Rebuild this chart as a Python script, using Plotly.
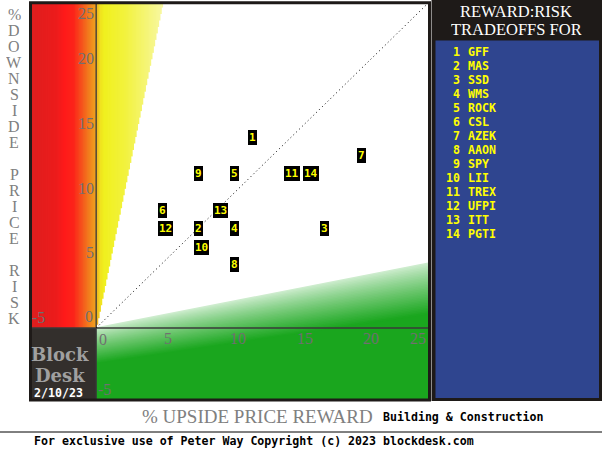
import plotly.graph_objects as go

# ---------------- data ----------------
ranks = list(range(1, 15))
tickers = ["GFF", "MAS", "SSD", "WMS", "ROCK", "CSL", "AZEK",
           "AAON", "SPY", "LII", "TREX", "UFPI", "ITT", "PGTI"]
upside = [11.5, 7.4, 16.9, 10.1, 10.1, 4.7, 19.7, 10.1, 7.4, 7.4, 14.2, 4.7, 8.8, 15.6]
downside = [14.7, 7.7, 7.7, 7.7, 11.9, 9.1, 13.3, 4.9, 11.9, 6.25, 11.9, 7.7, 9.1, 11.9]
x_ticks = [5, 10, 15, 20]
y_ticks = [5, 10, 15, 20]
chart_date = "2/10/23"
industry = "Building & Construction"

# ---------------- geometry ----------------
W, H = 602, 460
L, R, T, B = 30, 428, 3, 400
XR = [-5.0, 25.08]
YR = [-5.56, 25.1]


def px(xp):
    return (xp - L) / (R - L)


def py(yp):
    return 1 - (yp - T) / (B - T)


def lerp(stops, v):
    if v <= stops[0][0]:
        return stops[0][1]
    for (a, ca), (b, cb) in zip(stops[:-1], stops[1:]):
        if a <= v <= b:
            t = (v - a) / (b - a)
            return tuple(int(round(ca[i] + (cb[i] - ca[i]) * t)) for i in range(3))
    return stops[-1][1]


def rgb(c):
    return "rgb(%d,%d,%d)" % c


shapes = []

# red zone (negative upside): each stripe runs to x=0, later stripes overpaint
red_stops = [(-5, (222, 30, 30)), (-3.0, (236, 28, 28)), (-2.4, (255, 26, 26)),
             (-1.7, (252, 36, 26)), (-1.0, (244, 90, 28)), (-0.3, (240, 145, 30)),
             (0, (240, 165, 32))]
n = 50
for i in range(n):
    x0 = -5 + 5 * i / n
    x1 = -5 + 5 * (i + 1) / n
    c = lerp(red_stops, (x0 + x1) / 2)
    shapes.append(dict(type="rect", xref="x", yref="y", x0=x0, x1=0, y0=0, y1=YR[1],
                       fillcolor=rgb(c), line=dict(width=0), layer="below"))

# yellow wedge
yel_stops = [(0, (240, 172, 32)), (0.3, (240, 225, 30)), (0.6, (240, 240, 30)),
             (2.2, (242, 242, 62)), (3.8, (245, 245, 118)), (5.1, (248, 248, 165))]
n = 51
dx = 5.1 / n
for i in range(n):
    x0 = dx * i
    x1 = dx * (i + 1)
    c = lerp(yel_stops, (x0 + x1) / 2)
    shapes.append(dict(type="rect", xref="x", yref="y", x0=x0, x1=x1 + 0.6 * dx,
                       y0=5 * (x0 + x1) / 2, y1=YR[1],
                       fillcolor=rgb(c), line=dict(width=0), layer="below"))

# green zone: bands run from their top line down to the bottom, later ones overpaint
green = (26, 166, 30)
pale = (210, 238, 210)
xe = XR[1]
top_r = 0.2 * xe + 0.05
N = 32
for k in range(N + 1):
    a0 = 0.05 - 2.8 * k / N
    b0 = top_r - 4.0 * k / N
    t = min(1.0, ((k + 0.5) / N) ** 0.85)
    c = green if k == N else tuple(int(round(pale[i] + (green[i] - pale[i]) * t)) for i in range(3))
    shapes.append(dict(type="path", xref="x", yref="y",
                       path="M 0 %f L %f %f L %f %f L 0 %f Z" % (a0, xe, b0, xe, YR[0], YR[0]),
                       fillcolor=rgb(c), line=dict(width=0), layer="below"))

# dark corner box
shapes.append(dict(type="rect", xref="x", yref="y", x0=-5.2, x1=0, y0=YR[0], y1=0,
                   fillcolor="#332f2c", line=dict(width=0), layer="below"))

# axis lines
shapes.append(dict(type="line", xref="x", yref="y", x0=0, x1=0, y0=YR[0], y1=YR[1],
                   line=dict(color="#3a3a3a", width=1.3), layer="below"))
shapes.append(dict(type="line", xref="x", yref="y", x0=XR[0], x1=XR[1], y0=0, y1=0,
                   line=dict(color="#3a3a3a", width=1.3), layer="below"))

# plot frame
shapes.append(dict(type="rect", xref="paper", yref="paper",
                   x0=px(30.5), x1=px(429.5), y0=py(400), y1=py(2.7),
                   line=dict(color="#1e1a18", width=3), fillcolor="rgba(0,0,0,0)"))

# legend panel
shapes.append(dict(type="rect", xref="paper", yref="paper",
                   x0=px(431.5), x1=px(602), y0=py(401), y1=py(0),
                   fillcolor="#1e1a18", line=dict(width=0)))
shapes.append(dict(type="rect", xref="paper", yref="paper",
                   x0=px(435.5), x1=px(599), y0=py(398), y1=py(40.5),
                   fillcolor="#2f458f", line=dict(width=0)))

# footer rule
shapes.append(dict(type="line", xref="paper", yref="paper",
                   x0=px(0), x1=px(602), y0=py(432), y1=py(432),
                   line=dict(color="#000000", width=1)))

ann = []
serif = "Liberation Serif"
mono = "DejaVu Sans Mono"
tick_font = dict(family=serif, size=16, color="#707070")

# axis tick labels
ann.append(dict(x=0, y=0, xref="x", yref="y", text="0", xanchor="left", yanchor="top",
                xshift=1, yshift=-1, showarrow=False, font=tick_font))
for v in x_ticks:
    ann.append(dict(x=v, y=0, xref="x", yref="y", text=str(v), xanchor="left", yanchor="top",
                    showarrow=False, font=tick_font))
ann.append(dict(x=XR[1], y=0, xref="x", yref="y", text="25", xanchor="right", yanchor="top",
                showarrow=False, font=tick_font))
ann.append(dict(x=-5, y=0, xref="x", yref="y", text="-5", xanchor="left", yanchor="bottom",
                showarrow=False, font=tick_font))
ann.append(dict(x=0, y=0, xref="x", yref="y", text="0", xanchor="right", yanchor="bottom",
                xshift=-1, yshift=1, showarrow=False, font=tick_font))
for v in y_ticks:
    ann.append(dict(x=0, y=v, xref="x", yref="y", text=str(v), xanchor="right", yanchor="bottom",
                    showarrow=False, font=tick_font))
ann.append(dict(x=0, y=YR[1], xref="x", yref="y", text="25", xanchor="right", yanchor="top",
                showarrow=False, font=tick_font))
ann.append(dict(x=0, y=YR[0], xref="x", yref="y", text="-5", xanchor="left", yanchor="bottom",
                showarrow=False, font=tick_font))

# data point labels
for r, xv, yv in zip(ranks, upside, downside):
    ann.append(dict(x=xv, y=yv, xref="x", yref="y", text="<b>%d</b>" % r,
                    xanchor="left", yanchor="middle", showarrow=False,
                    bgcolor="#000000", bordercolor="#000000", borderwidth=1, borderpad=0,
                    font=dict(family=mono, size=11, color="#ffff00")))

# vertical y title letters
rows = ["%", "D", "O", "W", "N", "S", "I", "D", "E", "", "P", "R", "I", "C", "E", "", "R", "I", "S", "K"]
for i, ch in enumerate(rows):
    if ch:
        ann.append(dict(x=px(14), y=py(14 + 16 * i), xref="paper", yref="paper", text=ch,
                        xanchor="center", yanchor="middle", showarrow=False,
                        height=14, borderpad=0, borderwidth=0, valign="middle",
                        font=dict(family=serif, size=16, color="#808080")))

# x title
ann.append(dict(x=px(140), y=py(416), xref="paper", yref="paper", text="% UPSIDE PRICE REWARD",
                xanchor="left", yanchor="middle", showarrow=False,
                font=dict(family=serif, size=19, color="#808080")))
ann.append(dict(x=px(381), y=py(417), xref="paper", yref="paper", text="<b>%s</b>" % industry,
                xanchor="left", yanchor="middle", showarrow=False,
                font=dict(family=mono, size=11.6, color="#000000")))
ann.append(dict(x=px(32), y=py(441), xref="paper", yref="paper",
                text="<b>For exclusive use of Peter Way Copyright (c) 2023 blockdesk.com</b>",
                xanchor="left", yanchor="middle", showarrow=False,
                font=dict(family=mono, size=11.6, color="#000000")))

# Block Desk logo
ann.append(dict(x=px(60), y=py(354), xref="paper", yref="paper", text="<b>Block</b>",
                xanchor="center", yanchor="middle", showarrow=False,
                font=dict(family="DejaVu Serif", size=18, color="#a0a0a0")))
ann.append(dict(x=px(60), y=py(375), xref="paper", yref="paper", text="<b>Desk</b>",
                xanchor="center", yanchor="middle", showarrow=False,
                font=dict(family="DejaVu Serif", size=18, color="#a0a0a0")))
ann.append(dict(x=px(58), y=py(393), xref="paper", yref="paper", text="<b>%s</b>" % chart_date,
                xanchor="center", yanchor="middle", showarrow=False,
                font=dict(family=mono, size=11.6, color="#ffffff")))

# legend header
ann.append(dict(x=px(516), y=py(11), xref="paper", yref="paper", text="REWARD:RISK",
                xanchor="center", yanchor="middle", showarrow=False,
                height=16, borderpad=0, borderwidth=0,
                font=dict(family=serif, size=16.5, color="#ffffff")))
ann.append(dict(x=px(516), y=py(29.5), xref="paper", yref="paper", text="TRADEOFFS FOR",
                xanchor="center", yanchor="middle", showarrow=False,
                height=16, borderpad=0, borderwidth=0,
                font=dict(family=serif, size=16.5, color="#ffffff")))

# legend entries
for i, (r, tk) in enumerate(zip(ranks, tickers)):
    yy = py(52 + 14 * i)
    ann.append(dict(x=px(462), y=yy, xref="paper", yref="paper", text="<b>%d</b>" % r,
                    xanchor="right", yanchor="middle", showarrow=False,
                    font=dict(family=mono, size=11.6, color="#ffff00")))
    ann.append(dict(x=px(466), y=yy, xref="paper", yref="paper", text="<b>%s</b>" % tk,
                    xanchor="left", yanchor="middle", showarrow=False,
                    font=dict(family=mono, size=11.6, color="#ffff00")))

fig = go.Figure()
# equal reward = risk diagonal
fig.add_trace(go.Scatter(x=[0, 25], y=[0, 25], mode="lines",
                         line=dict(color="#000000", width=1, dash="1px,3px"),
                         hoverinfo="skip", showlegend=False))

fig.update_layout(
    width=W, height=H,
    margin=dict(l=L, r=W - R, t=T, b=H - B, pad=0),
    paper_bgcolor="#ffffff", plot_bgcolor="#ffffff",
    showlegend=False,
    xaxis=dict(range=XR, showgrid=False, zeroline=False, showticklabels=False,
               showline=False, ticks="", fixedrange=True),
    yaxis=dict(range=YR, showgrid=False, zeroline=False, showticklabels=False,
               showline=False, ticks="", fixedrange=True),
    shapes=shapes,
    annotations=ann,
)

fig.write_html("out.html", config={"displayModeBar": False},
               post_script="document.body.style.margin='0px';")
